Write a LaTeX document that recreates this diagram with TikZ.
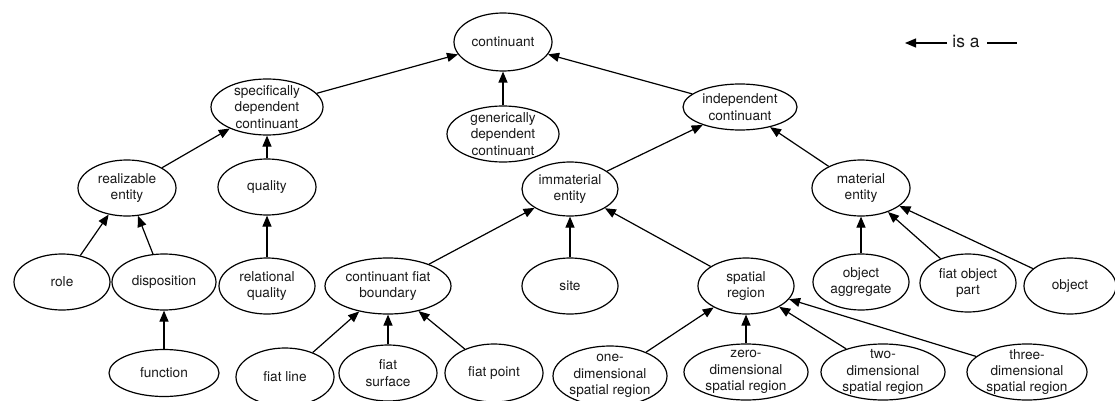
\documentclass[tikz,border=0pt]{standalone}
\usepackage{fontspec}
\setmainfont{TeX Gyre Heros}
\usetikzlibrary{arrows.meta,shapes.geometric}

\begin{document}
\begin{tikzpicture}[x=1pt,y=-1pt,
  ent/.style={ellipse, draw, line width=1.2pt, inner sep=0pt},
  sz/.style 2 args={minimum width=#1pt, minimum height=#2pt},
  lbl/.style={align=center, inner sep=0pt, text=black!90,
    font=\fontsize{13.65}{16.3}\selectfont},
  txt/.style={label={[lbl]center:{#1}}},
  isa/.style={line width=1.2pt, -{Triangle[length=11pt,width=9pt]}},
]
\useasboundingbox (0,0) rectangle (1115,401);

% top levels
\node[ent, sz={98}{58}, txt={continuant}] (cont) at (503,42) {};
\node[ent, sz={112}{56}, txt={specifically\\dependent\\continuant}] (sdc) at (267,107) {};
\node[ent, sz={112}{56}, txt={generically\\dependent\\continuant}] (gdc) at (503,134) {};
\node[ent, sz={114}{46}, txt={independent\\continuant}] (ic) at (740,107) {};

% second level
\node[ent, sz={98}{56}, txt={realizable\\entity}] (re) at (127,188) {};
\node[ent, sz={98}{56}, txt={quality}] (qual) at (267,187) {};
\node[ent, sz={96}{54}, txt={immaterial\\entity}] (ime) at (570,189) {};
\node[ent, sz={98}{56}, txt={material\\entity}] (me) at (861,188) {};

% third level
\node[ent, sz={96}{56}, txt={role}] (role) at (62,282) {};
\node[ent, sz={104}{56}, txt={disposition}] (disp) at (164,282) {};
\node[ent, sz={96}{56}, txt={relational\\quality}] (rq) at (267,286) {};
\node[ent, sz={126}{56}, txt={continuant fiat\\boundary}] (cfb) at (388,286) {};
\node[ent, sz={96}{56}, txt={site}] (site) at (570,286) {};
\node[ent, sz={96}{56}, txt={spatial\\region}] (sr) at (746,286) {};
\node[ent, sz={96}{56}, txt={object\\aggregate}] (oa) at (861,282) {};
\node[ent, sz={96}{58}, txt={fiat object\\part}] (fop) at (968,283) {};
\node[ent, sz={92}{56}, txt={object}] (obj) at (1070,286) {};

% bottom level
\node[ent, sz={110}{47}, txt={function}] (func) at (164,373) {};
\node[ent, sz={98}{58}, txt={fiat line}] (fl) at (285,377) {};
\node[ent, sz={98}{56}, txt={fiat\\surface}] (fs) at (388,373) {};
\node[ent, sz={98}{58}, txt={fiat point}] (fp) at (494,373) {};
\node[ent, sz={114}{60}, txt={one-\\dimensional\\spatial region}] (od) at (610,376) {};
\node[ent, sz={124}{56}, txt={zero-\\dimensional\\spatial region}] (zd) at (746,372) {};
\node[ent, sz={124}{56}, txt={two-\\dimensional\\spatial region}] (td) at (883,372) {};
\node[ent, sz={120}{56}, txt={three-\\dimensional\\spatial region}] (thd) at (1027,372) {};

% is-a links, child to parent
\draw[isa] (sdc) -- (cont);
\draw[isa] (gdc) -- (cont);
\draw[isa] (ic) -- (cont);
\draw[isa] (re) -- (sdc);
\draw[isa] (qual) -- (sdc);
\draw[isa] (ime) -- (ic);
\draw[isa] (me) -- (ic);
\draw[isa] (role) -- (re);
\draw[isa] (disp) -- (re);
\draw[isa] (rq) -- (qual);
\draw[isa] (func) -- (disp);
\draw[isa] (cfb) -- (ime);
\draw[isa] (site) -- (ime);
\draw[isa] (sr) -- (ime);
\draw[isa] (oa) -- (me);
\draw[isa] (fop) -- (me);
\draw[isa] (obj) -- (me);
\draw[isa] (fl) -- (cfb);
\draw[isa] (fs) -- (cfb);
\draw[isa] (fp) -- (cfb);
\draw[isa] (od) -- (sr);
\draw[isa] (zd) -- (sr);
\draw[isa] (td) -- (sr);
\draw[isa] (thd) -- (sr);

% legend
\coordinate (lgA) at (947,43);
\coordinate (lgB) at (905,43);
\coordinate (lgC) at (987,43);
\coordinate (lgD) at (1017,43);
\draw[isa] (lgA) -- (lgB);
\node[anchor=base, inner sep=0pt, text=black!90, font=\fontsize{17.4}{20}\selectfont] (lgtxt) at (966,48) {is a};
\draw[line width=1.2pt] (lgC) -- (lgD);
\end{tikzpicture}
\end{document}
